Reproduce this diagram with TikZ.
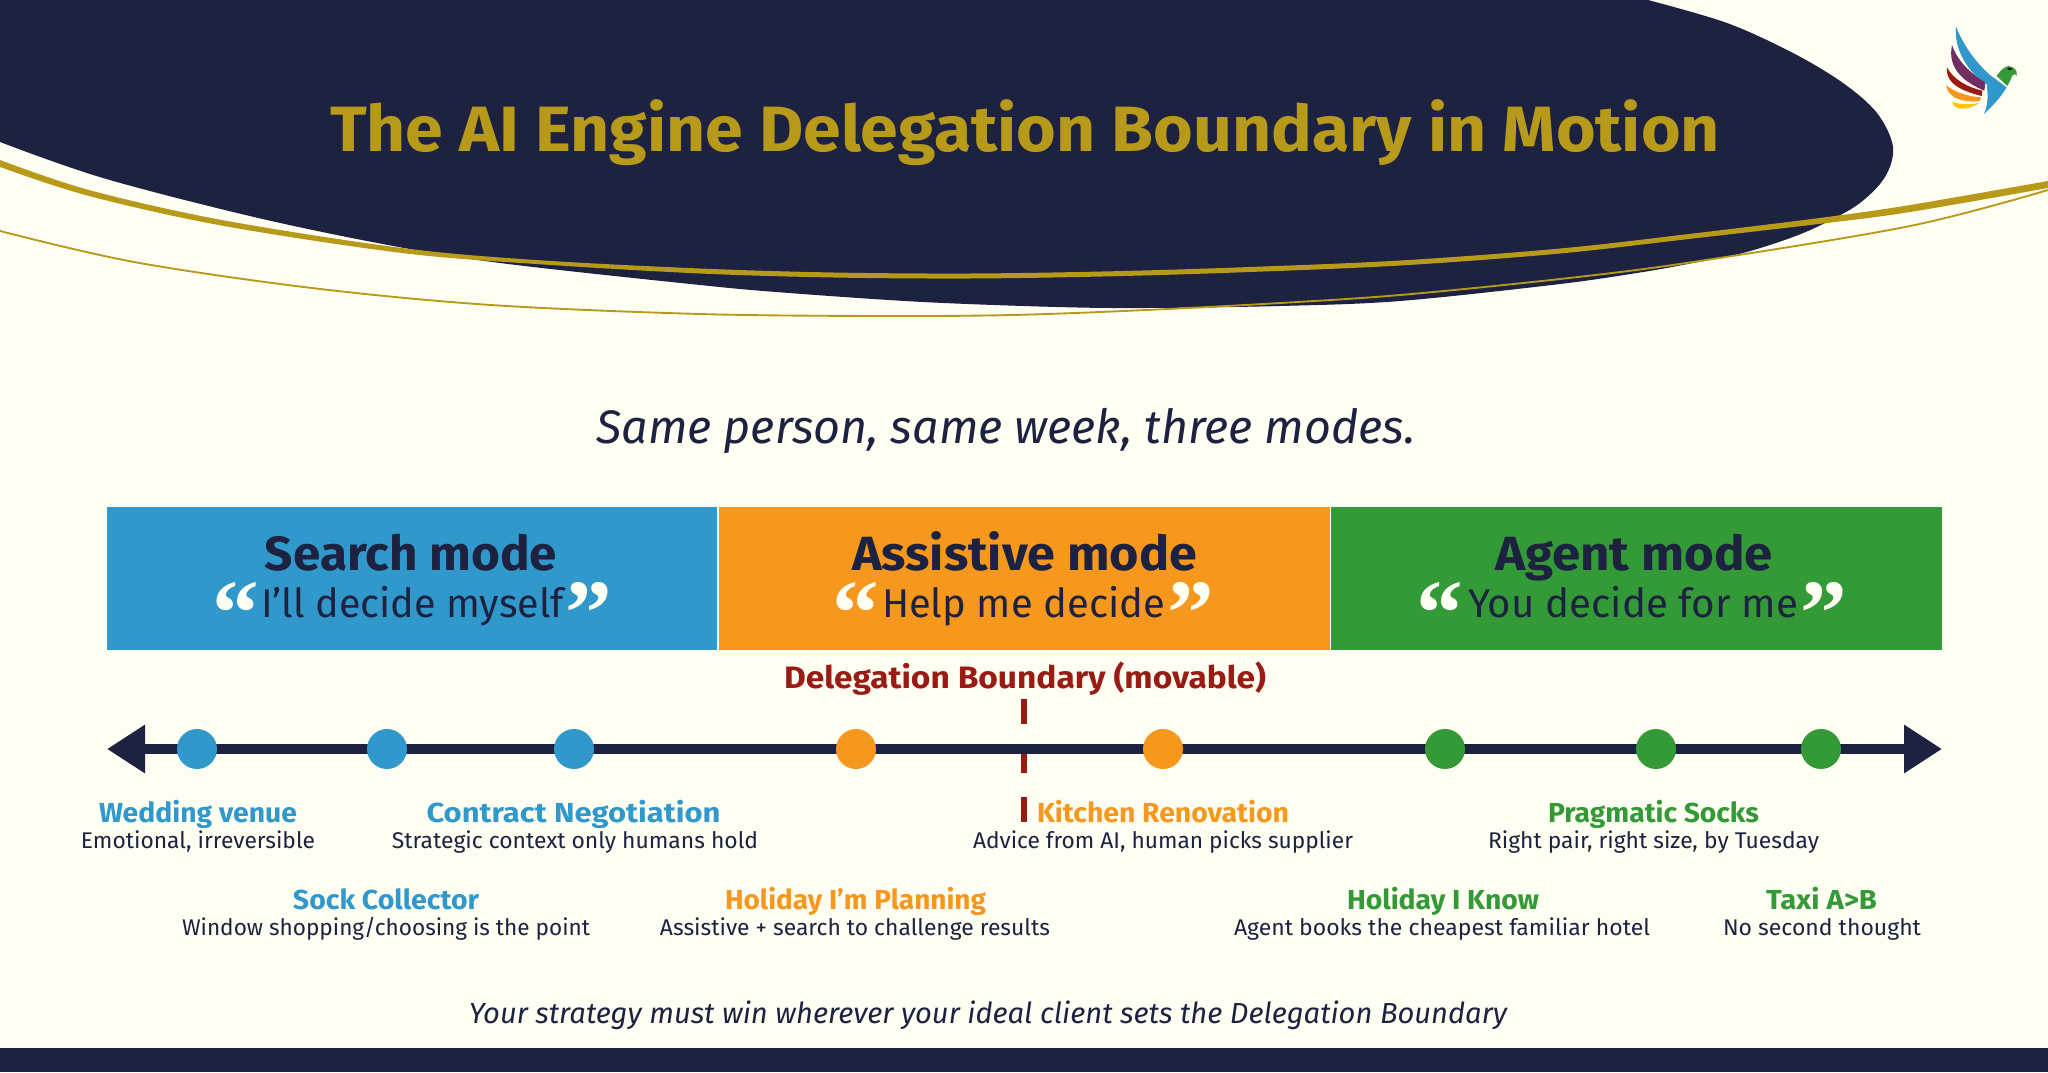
\documentclass[tikz,border=0pt]{standalone}
\usepackage{fontspec}
\usepackage{graphicx}
\setmainfont{Fira Sans}
\newfontfamily\qfont{Liberation Serif}[BoldFont={Liberation Serif Bold}]
\usetikzlibrary{arrows.meta}
\definecolor{bg}{HTML}{FFFEF2}
\definecolor{navy}{HTML}{1C2240}
\definecolor{gold}{HTML}{B89A1B}
\definecolor{sblue}{HTML}{3198CC}
\definecolor{sorange}{HTML}{F6971E}
\definecolor{sgreen}{HTML}{349A37}
\definecolor{dred}{HTML}{991B14}
\definecolor{lpurple}{HTML}{722F63}
\definecolor{lyellow}{HTML}{FFC60B}
\newdimen\pxu \pxu=0.375pt
% width in px, font size in px, text
\newcommand\tx[3]{\resizebox{#1\pxu}{\height}{\fontsize{#2\pxu}{#2\pxu}\selectfont #3}}
\tikzset{
  lbl/.style={anchor=base,inner sep=0pt,outer sep=0pt},
  band/.style={fill=#1,draw=none},
  dot/.style={circle,fill=#1,draw=none,minimum size=15pt,inner sep=0pt},
  quote/.style={anchor=base,inner sep=0pt,text=bg,font=\fontsize{35pt}{35pt}\selectfont\qfont\bfseries},
  head/.style={lbl,text=#1,font=\bfseries},
  sub/.style={lbl,text=navy},
  subit/.style={lbl,text=navy,font=\itshape},
}
\begin{document}
\begin{tikzpicture}[x=0.375pt,y=-0.375pt]
\useasboundingbox (0,0) rectangle (2048,1072);
\fill[bg] (0,0) rectangle (2048,1072);
% header blob
\fill[navy] (0,0) -- (1648,0)
  -- plot[smooth,tension=0.55] coordinates {(1648,0) (1727,23) (1793,53) (1843,83) (1877,113) (1893,147) (1885,177) (1860,203) (1827,222) (1793,237) (1743,253) (1693,263) (1643,272) (1560,284) (1400,301) (1280,306) (1146,308) (1057,307) (923,302) (789,293) (700,285) (500,263) (388,245) (254,217) (103,178) (0,142)}
  -- cycle;
% swooshes
\fill[gold] plot[smooth,tension=0.55] coordinates {(0,160) (89,190) (223,220.2) (402,248) (536,260) (700,268.5) (834,272.5) (968,273.5) (1102,271.5) (1236,267.5) (1400,260.5) (1560,248.5) (1693,233.5) (1827,217) (1910,205) (2048,181)}
  -- plot[smooth,tension=0.55] coordinates {(2048,188) (1910,212) (1827,223) (1693,238.5) (1560,253.5) (1400,265.5) (1236,272.5) (1102,276.5) (968,278.5) (834,277.5) (700,273.5) (536,264) (402,253) (223,225.8) (89,196) (0,167)} -- cycle;
\draw[gold,line width=0.7pt] plot[smooth,tension=0.55] coordinates {(0,231) (134,262) (312,288) (491,305) (700,314) (879,316) (1012,315) (1146,310) (1280,303) (1400,295) (1560,279) (1693,262) (1910,226) (2048,190)};
% logo
\begin{scope}[shift={(1800,0)},x=0.125pt,y=-0.125pt]
\fill[sblue] (468,80) .. controls (490,135) and (525,185) .. (570,225) -- (620,262) .. controls (600,295) and (575,320) .. (552,342) .. controls (565,310) and (564,285) .. (560,252) .. controls (510,225) and (460,150) .. (468,80) -- cycle;
\fill[sgreen] (590,228) .. controls (605,205) and (625,190) .. (640,203) .. controls (650,210) and (652,220) .. (650,228) .. controls (645,220) and (640,222) .. (636,228) .. controls (632,240) and (626,250) .. (622,258) -- cycle;
\fill[black] (629,207) ellipse [x radius=7,y radius=3];
\fill[lpurple] (456,135) .. controls (475,190) and (520,225) .. (556,248) -- (553,272) .. controls (500,250) and (440,210) .. (456,135) -- cycle;
\fill[dred] (441,202) .. controls (460,240) and (505,262) .. (547,272) -- (545,288) .. controls (495,275) and (435,255) .. (441,202) -- cycle;
\fill[sorange] (438,256) .. controls (470,280) and (510,290) .. (543,292) -- (540,303) .. controls (500,308) and (445,300) .. (438,256) -- cycle;
\fill[lyellow] (456,306) .. controls (485,314) and (515,315) .. (540,308) .. controls (515,325) and (465,340) .. (456,306) -- cycle;
\end{scope}
% title
\node[head=gold] (title) at (1025,151.3) {\tx{1390}{64}{The AI Engine Delegation Boundary in Motion}};
\node[subit] (subtitle) at (1006,443.5) {\tx{819}{47}{Same person, same week, three modes.}};
% bands
\path[band=sblue] (107,507) rectangle (717,650);
\path[band=sorange] (719,507) rectangle (1329.5,650);
\path[band=sgreen] (1331,507) rectangle (1942,650);
\node[head=navy] (m1) at (411,570.3) {\tx{292}{48}{Search mode}};
\node[head=navy] (m2) at (1024.5,570.3) {\tx{345}{48}{Assistive mode}};
\node[head=navy] (m3) at (1634,570.3) {\tx{278}{48}{Agent mode}};
\node[sub] (s1) at (412.5,617.3) {\tx{303}{40}{I’ll decide myself}};
\node[sub] (s2) at (1023.5,617.3) {\tx{283}{40}{Help me decide}};
\node[sub] (s3) at (1633,617.3) {\tx{330}{40}{You decide for me}};
\node[quote] (q1a) at (236,644) {“};
\node[quote] (q1b) at (589,644) {”};
\node[quote] (q2a) at (855.5,644) {“};
\node[quote] (q2b) at (1191,644) {”};
\node[quote] (q3a) at (1440,644) {“};
\node[quote] (q3b) at (1824,644) {”};
% boundary
\node[head=dred] (db) at (1025,688.3) {\tx{482}{31}{Delegation Boundary (movable)}};
\coordinate (bt) at (1024,699);
\coordinate (bb) at (1024,822);
\draw[dred,line width=2.1pt,dash pattern=on 9.3pt off 9.1pt] (bt) -- (bb);
% axis
\coordinate (axL) at (107,749);
\coordinate (axR) at (1942,749);
\draw[navy,line width=3.75pt,{Triangle[length=14.25pt,width=17.25pt]}-{Triangle[length=14.25pt,width=17.25pt]}] (axL) -- (axR);
\node[dot=sblue] (d1) at (197,749) {};
\node[dot=sblue] (d2) at (387,749) {};
\node[dot=sblue] (d3) at (574,749) {};
\node[dot=sorange] (d4) at (856,749) {};
\node[dot=sorange] (d5) at (1163,749) {};
\node[dot=sgreen] (d6) at (1445,749) {};
\node[dot=sgreen] (d7) at (1656,749) {};
\node[dot=sgreen] (d8) at (1821,749) {};
% row 1
\node[head=sblue] (h1) at (198,822.3) {\tx{198}{27.5}{Wedding venue}};
\node[sub] (t1) at (198,848.3) {\tx{234}{22.7}{Emotional, irreversible}};
\node[head=sblue] (h2) at (573.5,822.3) {\tx{294}{27.5}{Contract Negotiation}};
\node[sub] (t2) at (575,848.3) {\tx{366}{22.7}{Strategic context only humans hold}};
\node[head=sorange] (h3) at (1163,822.3) {\tx{252}{27.5}{Kitchen Renovation}};
\node[sub] (t3) at (1163,848.3) {\tx{380}{22.7}{Advice from AI, human picks supplier}};
\node[head=sgreen] (h4) at (1653.5,822.3) {\tx{211}{27.5}{Pragmatic Socks}};
\node[sub] (t4) at (1653.5,848.3) {\tx{331}{22.7}{Right pair, right size, by Tuesday}};
% row 2
\node[head=sblue] (h5) at (386,909.3) {\tx{186}{27.5}{Sock Collector}};
\node[sub] (t5) at (386,935.3) {\tx{408}{22.7}{Window shopping/choosing is the point}};
\node[head=sorange] (h6) at (855.5,909.3) {\tx{261}{27.5}{Holiday I’m Planning}};
\node[sub] (t6) at (855,935.3) {\tx{390}{22.7}{Assistive + search to challenge results}};
\node[head=sgreen] (h7) at (1443,909.3) {\tx{192}{27.5}{Holiday I Know}};
\node[sub] (t7) at (1442,935.3) {\tx{416}{22.7}{Agent books the cheapest familiar hotel}};
\node[head=sgreen] (h8) at (1821.5,909.3) {\tx{111}{27.5}{Taxi A>B}};
\node[sub] (t8) at (1822,935.3) {\tx{198}{22.7}{No second thought}};
% footer
\node[subit] (foot) at (988,1023) {\tx{1038}{29}{Your strategy must win wherever your ideal client sets the Delegation Boundary}};
\fill[navy] (0,1048) rectangle (2048,1072);
\end{tikzpicture}
\end{document}
